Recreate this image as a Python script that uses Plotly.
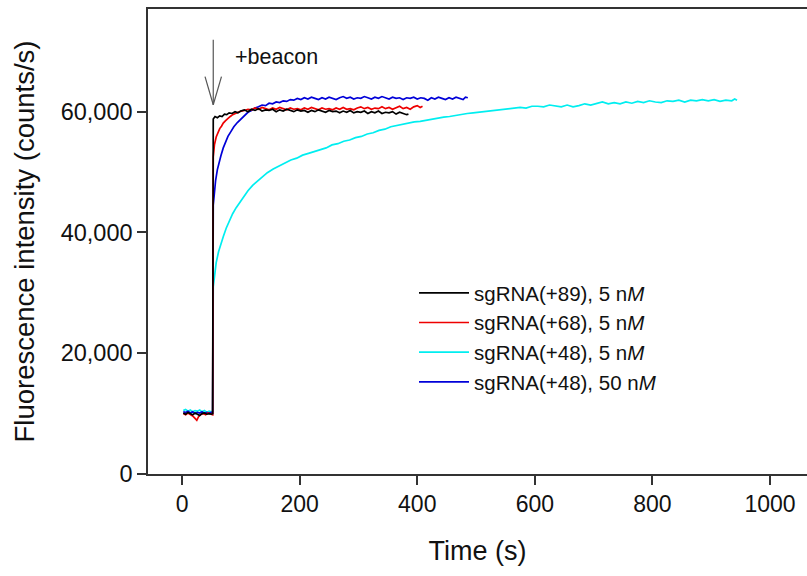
import plotly.graph_objects as go

# ---- data ----
black_t = [2, 6, 10, 14, 18, 22, 26, 30, 34, 38, 42, 46, 50, 52,
           53, 56, 60, 64, 68, 72, 76, 80, 85, 90, 95, 100, 106, 112, 118, 124, 130, 136, 142, 148,
           154, 160, 166, 172, 178, 184, 190, 196, 202, 208, 214, 220, 226, 232, 238, 244, 250, 256,
           262, 268, 274, 280, 286, 292, 298, 304, 310, 316, 322, 328, 334, 340, 346, 352, 358, 364,
           370, 376, 382, 385]
black_v = [10100, 9900, 10200, 10000, 9800, 10100, 9900, 9700, 10000, 10100, 9900, 10000, 9900, 10000,
           58800, 59200, 59000, 59300, 59200, 59600, 59500, 59800, 59700, 60000, 59800, 60100, 60300, 60000,
           60400, 60200, 60500, 60100, 60300, 60200, 60400, 60000, 60300, 60100, 60400, 60200, 60000, 60300,
           60100, 60200, 59900, 60200, 60000, 60300, 60100, 59900, 60200, 60000, 60100, 59800, 60100, 59900,
           60200, 59800, 60000, 59900, 60100, 59700, 60000, 59800, 60100, 59700, 59900, 59800, 60000, 59600,
           59900, 59700, 59500, 59600]

red_t = [2, 6, 10, 14, 18, 22, 25, 28, 32, 36, 40, 44, 48, 52,
         53, 55, 58, 61, 64, 67, 70, 74, 78, 82, 86, 90, 95, 100, 106, 112, 118, 124, 130, 136, 142,
         148, 154, 160, 166, 172, 178, 184, 190, 196, 202, 208, 214, 220, 226, 232, 238, 244, 250, 256,
         262, 268, 274, 280, 286, 292, 298, 304, 310, 316, 322, 328, 334, 340, 346, 352, 358, 364, 370,
         376, 382, 388, 394, 400, 405, 409]
red_v = [10000, 9800, 10100, 9900, 9600, 9200, 8900, 9500, 9900, 10000, 9800, 10100, 9900, 9800,
         52500, 54500, 55800, 56600, 57200, 57600, 58100, 58500, 58900, 59200, 59500, 59700, 59900, 60100,
         60200, 60400, 60300, 60600, 60400, 60700, 60500, 60300, 60600, 60400, 60700, 60500, 60300, 60600,
         60400, 60500, 60300, 60600, 60400, 60700, 60500, 60300, 60600, 60400, 60500, 60300, 60600, 60400,
         60700, 60400, 60500, 60300, 60600, 60800, 60500, 60700, 60400, 60600, 60500, 60800, 60500, 60700,
         60400, 60600, 60900, 60500, 60700, 60400, 60800, 61000, 60700, 60900]

cyan_t = [2, 6, 10, 14, 18, 22, 26, 30, 34, 38, 42, 46, 50, 52,
          53, 55, 58, 62, 66, 70, 75, 80, 86, 92, 98, 105, 112, 120, 128, 136, 145, 155, 165, 175, 185,
          195, 205, 215, 225, 235, 245, 255, 265, 275, 285, 295, 305, 315, 325, 335, 345, 355, 365, 375,
          385, 395, 405, 415, 425, 435, 445, 455, 465, 475, 485, 495, 505, 515, 525, 535, 545, 555, 565,
          575, 585, 595, 605, 615, 625, 635, 645, 655, 665, 675, 685, 695, 705, 715, 725, 735, 745, 755,
          765, 775, 785, 795, 805, 815, 825, 835, 845, 855, 865, 875, 885, 895, 905, 915, 925, 935, 940, 944]
cyan_v = [10500, 10700, 10400, 10600, 10300, 10500, 10400, 10600, 10300, 10500, 10200, 10400, 10300, 10400,
          31000, 33000, 35000, 36800, 38200, 39300, 40700, 41900, 43100, 44100, 45000, 46000, 46900, 47800,
          48500, 49100, 49900, 50500, 51000, 51600, 52000, 52300, 52800, 53100, 53400, 53800, 54000, 54500,
          54700, 55100, 55300, 55700, 55900, 56300, 56500, 56900, 57100, 57500, 57700, 58000, 58100, 58300,
          58400, 58600, 58700, 58900, 59100, 59200, 59400, 59500, 59700, 59800, 59900, 60100, 60100, 60300,
          60400, 60400, 60600, 60700, 60600, 60900, 60900, 60800, 61100, 61000, 60800, 61100, 60800, 61000,
          61300, 61100, 61400, 61600, 61300, 61500, 61300, 61600, 61400, 61700, 61500, 61800, 61600, 61500,
          61800, 61700, 61900, 61600, 61900, 61800, 62000, 61800, 62000, 61700, 61900, 61800, 62100, 61900]

blue_t = [2, 6, 10, 14, 18, 22, 26, 30, 34, 38, 42, 46, 50, 52,
          53, 55, 57, 60, 63, 66, 70, 74, 78, 83, 88, 94, 100, 106, 112, 118, 124, 130, 136, 142, 148,
          154, 160, 166, 172, 178, 184, 190, 196, 202, 208, 214, 220, 226, 232, 238, 244, 250, 256, 262,
          268, 274, 280, 286, 292, 298, 304, 310, 316, 322, 328, 334, 340, 346, 352, 358, 364, 370, 376,
          382, 388, 394, 400, 406, 412, 418, 424, 430, 436, 442, 448, 454, 460, 466, 472, 478, 482, 486]
blue_v = [10300, 10200, 10400, 10100, 10300, 10000, 10200, 10100, 10300, 10000, 10200, 10100, 10200, 10100,
          44500, 46800, 48600, 50400, 51800, 52700, 54000, 55100, 55900, 56700, 57500, 58200, 58800, 59400,
          59900, 60200, 60600, 60800, 61100, 61000, 61400, 61300, 61600, 61500, 61800, 61700, 62000, 61900,
          62200, 62000, 62300, 62100, 62400, 62200, 62000, 62300, 62100, 62400, 62200, 62000, 62300, 62500,
          62200, 62400, 62100, 62300, 62200, 62500, 62300, 62100, 62400, 62200, 62500, 62300, 62100, 62400,
          62200, 62300, 62000, 62300, 62200, 62400, 62100, 62300, 62200, 61900, 62300, 62100, 62400, 62200,
          62000, 62300, 62100, 62400, 62200, 62000, 62400, 62300]

series_names = ["sgRNA(+89), 5 n<i>M</i>", "sgRNA(+68), 5 n<i>M</i>",
                "sgRNA(+48), 5 n<i>M</i>", "sgRNA(+48), 50 n<i>M</i>"]
series_colors = ["#000000", "#ee0000", "#00eef0", "#0000d8"]

x_ticks = [0, 200, 400, 600, 800, 1000]
y_ticks = [0, 20000, 40000, 60000]

arrow_t = 53
arrow_top, arrow_tip, arrow_arm = 71900, 61150, 65800
arrow_half = 14

FONT = "Liberation Sans, Arial, sans-serif"

fig = go.Figure()
data = [(black_t, black_v), (red_t, red_v), (cyan_t, cyan_v), (blue_t, blue_v)]
traces = []
for i in range(4):
    t, v = data[i]
    traces.append(go.Scatter(x=t, y=v, mode="lines", name=series_names[i],
                             line=dict(color=series_colors[i], width=1.7),
                             legendgroup=f"g{i}", legendrank=i + 1))
# draw order: cyan, blue, red, black (black on top)
for i in [2, 3, 1, 0]:
    fig.add_trace(traces[i])

fig.add_shape(type="line", x0=arrow_t, x1=arrow_t, y0=arrow_top, y1=arrow_tip,
              line=dict(color="#555555", width=1.2))
fig.add_shape(type="line", x0=arrow_t - arrow_half, x1=arrow_t, y0=arrow_arm, y1=arrow_tip,
              line=dict(color="#555555", width=1.2))
fig.add_shape(type="line", x0=arrow_t + arrow_half, x1=arrow_t, y0=arrow_arm, y1=arrow_tip,
              line=dict(color="#555555", width=1.2))
fig.add_annotation(x=86, y=69100, text="+beacon", showarrow=False, xanchor="left",
                   yanchor="middle", font=dict(family=FONT, size=21.5, color="#111111"))

fig.update_layout(
    width=807, height=576,
    margin=dict(l=148, r=0, t=9, b=102),
    paper_bgcolor="white", plot_bgcolor="white",
    font=dict(family=FONT, color="#111111"),
    showlegend=True,
    legend=dict(x=(414 - 148) / 659, y=(474 - 273) / 465, xanchor="left", yanchor="top",
                font=dict(family=FONT, size=20.5, color="#111111"),
                bgcolor="rgba(0,0,0,0)", tracegroupgap=0, itemwidth=50),
    xaxis=dict(range=[-58, 1063], tickvals=x_ticks, ticks="outside", ticklen=9, tickwidth=1.5,
               tickcolor="#333333", showline=True, linecolor="#333333", linewidth=1.5,
               mirror=True, showgrid=False, zeroline=False,
               tickfont=dict(size=23), title=dict(text="Time (s)", font=dict(size=27), standoff=25)),
    yaxis=dict(range=[0, 77000], tickvals=y_ticks, tickformat=",", ticks="outside", ticklen=9,
               tickwidth=1.5, tickcolor="#333333", showline=True, linecolor="#333333", linewidth=1.5,
               showgrid=False, zeroline=False, tickfont=dict(size=23.5),
               title=dict(text="Fluorescence intensity (counts/s)", font=dict(size=27.5), standoff=18)),
)

fig.write_html("out.html")
